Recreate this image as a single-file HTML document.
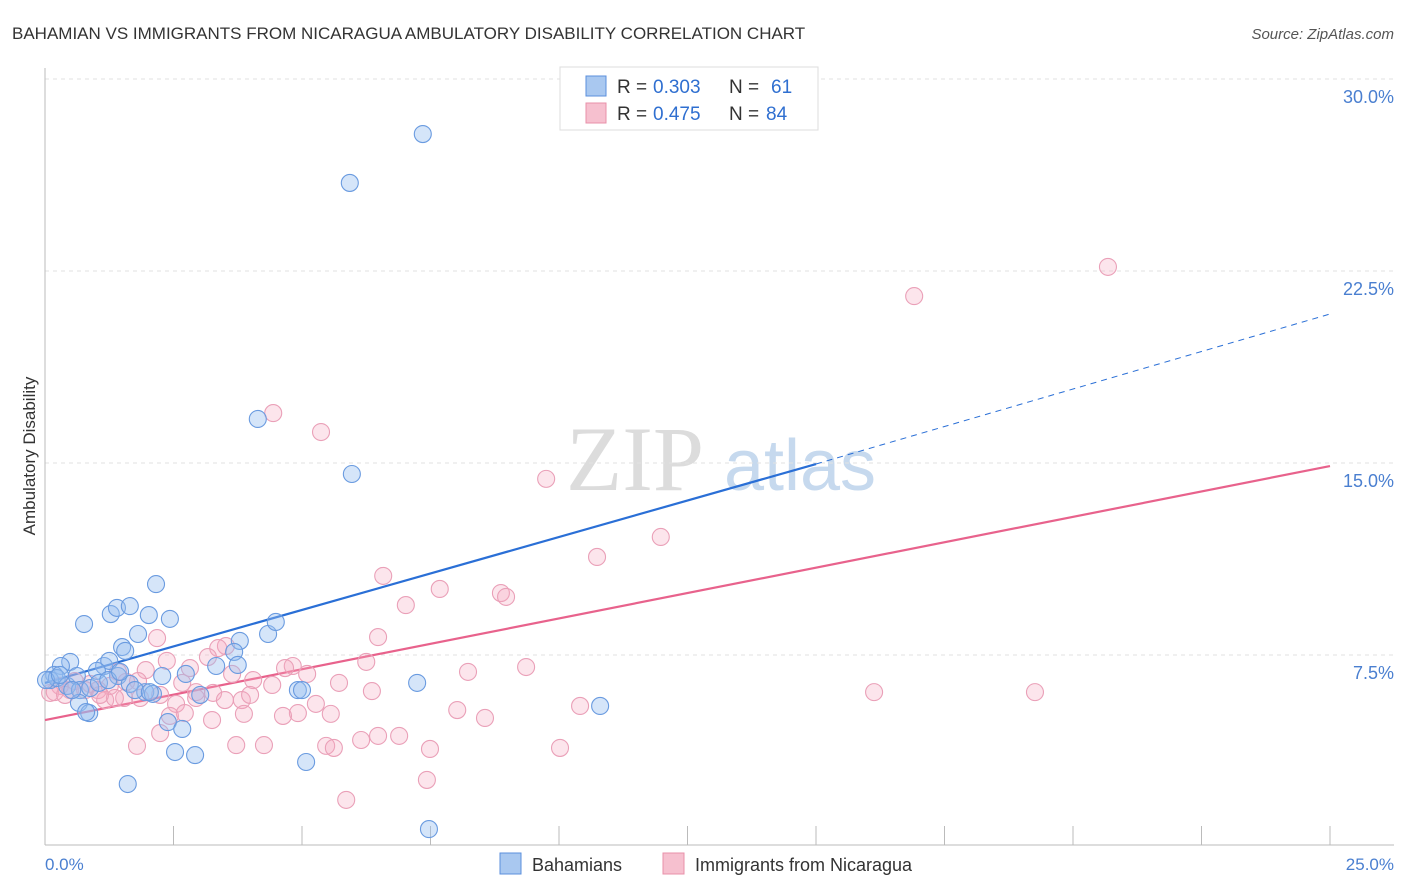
<!DOCTYPE html>
<html><head><meta charset="utf-8"><style>
body{margin:0;background:#fff;font-family:"Liberation Sans",sans-serif;}
svg{display:block}
</style></head><body>
<svg id="chart" width="1406" height="892" xmlns="http://www.w3.org/2000/svg">
<text x="12" y="39" font-size="17" fill="#333">BAHAMIAN VS IMMIGRANTS FROM NICARAGUA AMBULATORY DISABILITY CORRELATION CHART</text>
<text x="1394" y="39" font-size="15" fill="#555" font-style="italic" text-anchor="end">Source: ZipAtlas.com</text>
<g>
<text x="635" y="490" font-size="92" fill="#dcdcdc" font-family="Liberation Serif,serif" text-anchor="middle">ZIP</text>
<text x="800" y="490" font-size="72" fill="#c6d9ee" text-anchor="middle">atlas</text>
</g>
<g id="grid"></g>
<g id="axes"></g>
<g id="lines"></g>
<g id="points"></g>
<text x="35" y="456" font-size="17" fill="#333" transform="rotate(-90 35 456)" text-anchor="middle">Ambulatory Disability</text>
<text x="45" y="870" font-size="17" fill="#4a7fd0">0.0%</text>
<text x="1394" y="870" font-size="17" fill="#4a7fd0" text-anchor="end">25.0%</text>
<g>
<rect x="560" y="67" width="258" height="63" fill="#fff" stroke="#ddd"/>
<rect x="586" y="76" width="20" height="20" fill="#a9c8f0" stroke="#5b8fdc"/>
<rect x="586" y="103" width="20" height="20" fill="#f6c0cf" stroke="#e890aa"/>
<text x="617" y="93" font-size="19" fill="#333">R =</text>
<text x="653" y="93" font-size="19" fill="#2f6fd0">0.303</text>
<text x="729" y="93" font-size="19" fill="#333">N =</text>
<text x="771" y="93" font-size="19" fill="#2f6fd0">61</text>
<text x="617" y="120" font-size="19" fill="#333">R =</text>
<text x="653" y="120" font-size="19" fill="#2f6fd0">0.475</text>
<text x="729" y="120" font-size="19" fill="#333">N =</text>
<text x="766" y="120" font-size="19" fill="#2f6fd0">84</text>
</g>
<g>
<rect x="500" y="853" width="21" height="21" fill="#a9c8f0" stroke="#5b8fdc"/>
<text x="532" y="871" font-size="18" fill="#333">Bahamians</text>
<rect x="663" y="853" width="21" height="21" fill="#f6c0cf" stroke="#e890aa"/>
<text x="695" y="871" font-size="18" fill="#333">Immigrants from Nicaragua</text>
</g>
</svg>
<script>
const yTicks=[7.5,15,22.5,30];
const yTickLabels=["7.5%","15.0%","22.5%","30.0%"];
const xTicks=[0,2.5,5,7.5,10,12.5,15,17.5,20,22.5,25];
const blueX=[7.35,5.93,4.14,5.97,2.16,0.76,1.28,1.40,1.65,2.02,2.43,1.81,1.50,1.56,3.79,4.34,4.49,0.49,0.31,1.15,1.25,1.01,0.18,0.10,0.23,0.43,0.62,0.68,0.88,1.05,1.42,1.65,1.95,2.10,2.28,2.74,3.02,3.33,3.68,3.75,4.92,5.00,7.24,10.80,0.66,0.86,0.80,2.39,2.67,2.53,2.92,5.08,1.61,7.47,0.02,0.29,0.53,1.23,1.46,1.75,2.04];
const blueY=[27.85,25.94,16.72,14.57,10.27,8.71,9.10,9.34,9.41,9.06,8.91,8.32,7.81,7.66,8.05,8.32,8.79,7.23,7.07,7.07,7.27,6.88,6.72,6.52,6.60,6.29,6.68,6.13,6.21,6.41,6.68,6.37,6.05,5.98,6.68,6.76,5.94,7.07,7.62,7.11,6.13,6.13,6.41,5.51,5.63,5.23,5.27,4.88,4.61,3.71,3.59,3.32,2.46,0.70,6.52,6.72,6.13,6.52,6.84,6.13,6.05];
const pinkX=[20.68,16.91,4.44,5.37,9.75,11.98,10.74,6.58,7.68,8.87,8.97,7.02,6.48,2.18,3.52,3.37,2.37,3.17,2.82,9.36,8.23,6.25,4.82,4.67,5.10,1.96,1.42,3.64,4.05,4.42,5.72,6.36,2.67,1.81,1.58,1.26,0.88,0.58,0.29,0.10,0.19,0.49,1.03,1.54,1.17,1.36,3.27,2.94,3.83,2.55,2.72,3.25,3.87,4.92,4.63,5.27,5.56,8.02,8.56,10.41,16.13,19.26,2.24,1.79,3.72,4.26,5.47,5.62,6.15,6.48,6.89,7.49,10.02,7.43,5.86,2.94,2.43,0.78,0.39,1.85,2.24,3.50,3.99,1.07];
const pinkY=[22.66,21.52,16.95,16.21,14.38,12.11,11.33,10.59,10.08,9.92,9.77,9.45,8.20,8.16,7.85,7.77,7.27,7.42,6.99,7.03,6.84,7.23,7.07,6.99,6.76,6.91,6.84,6.76,6.52,6.33,6.41,6.09,6.41,6.48,6.45,6.29,6.37,6.48,6.29,6.02,6.05,6.13,6.13,5.82,5.74,5.82,6.02,6.05,5.74,5.59,5.23,4.96,5.20,5.23,5.12,5.59,5.20,5.35,5.04,5.51,6.05,6.05,4.45,3.95,3.98,3.98,3.95,3.87,4.18,4.34,4.34,3.83,3.87,2.62,1.84,5.82,5.12,6.13,5.94,5.82,5.94,5.74,5.94,5.94];
const blueTrend=[6.41,14.96,20.82];
const blueTrendX=[0,15,25];
const pinkTrend=[4.96,14.88];
const pinkTrendX=[0,25];
const NS="http://www.w3.org/2000/svg";
const X=v=>45+v*51.4;
const Y=v=>847-v*25.6;
function mk(tag,attrs,parent){const e=document.createElementNS(NS,tag);for(const k in attrs)e.setAttribute(k,attrs[k]);document.getElementById(parent).appendChild(e);return e;}
yTicks.forEach((t,i)=>{
 const l=mk('line',{x1:45,x2:1394,y1:Y(t),y2:Y(t),stroke:'#e2e2e2','stroke-dasharray':'4,4'},'grid');
 
 
 const tx=mk('text',{x:1394,y:Y(t)+24,'font-size':18,fill:'#4a7fd0','text-anchor':'end'},'grid');
 tx.textContent=yTickLabels[i];
 
 
});
const ax1=mk('line',{x1:45,x2:45,y1:68,y2:845,stroke:'#bbb'},'axes');


const ax2=mk('line',{x1:45,x2:1394,y1:845,y2:845,stroke:'#bbb'},'axes');


xTicks.forEach(t=>{
 const l=mk('line',{x1:X(t),x2:X(t),y1:826,y2:845,stroke:'#bbb'},'axes');
 
 
});
function pts(xs,ys,fill,stroke,name){
 xs.forEach((x,i)=>{
  const c=mk('circle',{cx:X(x),cy:Y(ys[i]),r:8.5,fill:fill,stroke:stroke,'stroke-width':1.1},'points');
  
  
 });
}
pts(pinkX,pinkY,'rgba(244,170,192,0.3)','#eaa0b8','nicaragua-point');
pts(blueX,blueY,'rgba(150,190,240,0.4)','#6a9be0','bahamian-point');
const b1=mk('line',{x1:X(blueTrendX[0]),y1:Y(blueTrend[0]),x2:X(blueTrendX[1]),y2:Y(blueTrend[1]),stroke:'#2a6fd6','stroke-width':2.2},'lines');


const b2=mk('line',{x1:X(blueTrendX[1]),y1:Y(blueTrend[1]),x2:X(blueTrendX[2]),y2:Y(blueTrend[2]),stroke:'#2a6fd6','stroke-width':1,'stroke-dasharray':'6,5'},'lines');


const p1=mk('line',{x1:X(pinkTrendX[0]),y1:Y(pinkTrend[0]),x2:X(pinkTrendX[1]),y2:Y(pinkTrend[1]),stroke:'#e8628c','stroke-width':2.2},'lines');


</script>
</body></html>
